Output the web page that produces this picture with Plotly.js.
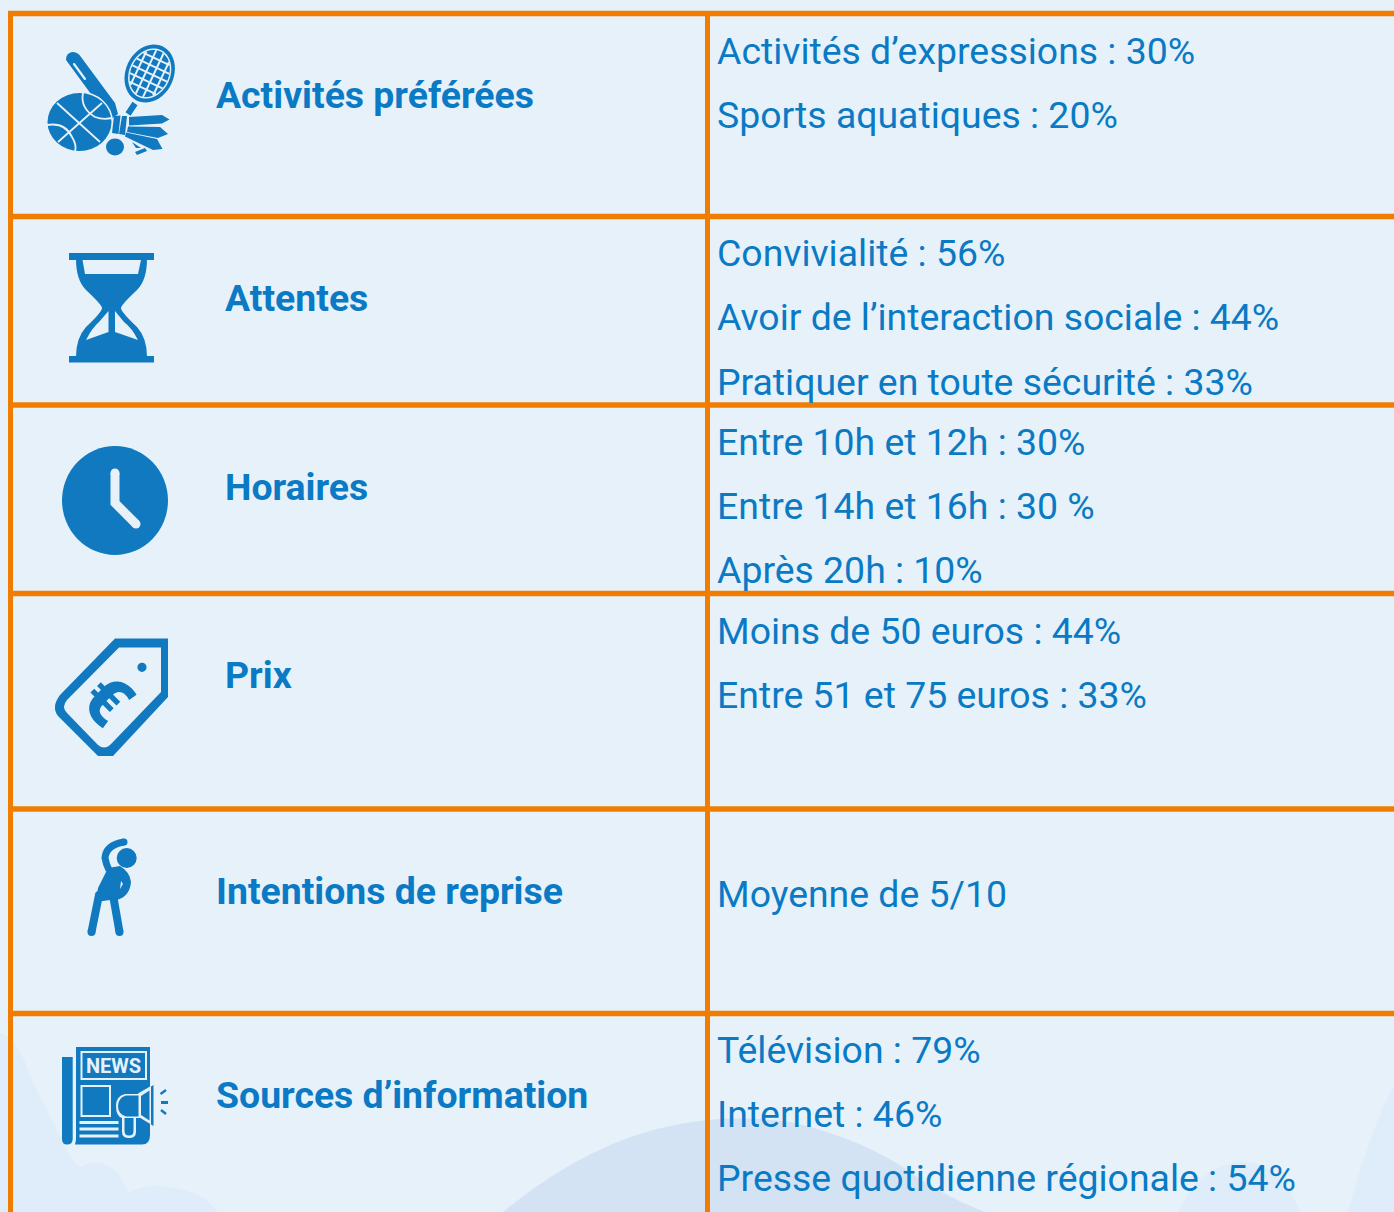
<!DOCTYPE html>
<html lang="fr"><head><meta charset="utf-8">
<script src="https://cdn.plot.ly/plotly-3.0.1.min.js"></script>
<style>html,body{margin:0;padding:0;background:#E6F1FA}#c{width:1394px;height:1212px}</style>
</head><body><div id="c"></div>
<script>
const rubriques = ['Activités préférées','Attentes','Horaires','Prix','Intentions de reprise','Sources d’information'];
const activites = ['Activités d’expressions : 30%','Sports aquatiques : 20%'];
const attentes  = ['Convivialité : 56%','Avoir de l’interaction sociale : 44%','Pratiquer en toute sécurité : 33%'];
const horaires  = ['Entre 10h et 12h : 30%','Entre 14h et 16h : 30 %','Après 20h : 10%'];
const prix      = ['Moins de 50 euros : 44%','Entre 51 et 75 euros : 33%'];
const reprise   = ['Moyenne de 5/10'];
const sources   = ['Télévision : 79%','Internet : 46%','Presse quotidienne régionale : 54%'];

const BG='#E6F1FA', OR='#F07D00', IC='#1079BF', TX='#0A7AC5';
const shapes=[], ann=[];
const P=(d,fill,line,w)=>shapes.push({type:'path',xref:'x',yref:'y',path:d,fillcolor:fill||'rgba(0,0,0,0)',line:{color:line||'rgba(0,0,0,0)',width:w||0}});
const E=(cx,cy,rx,ry,fill)=>shapes.push({type:'circle',xref:'x',yref:'y',x0:cx-rx,x1:cx+rx,y0:cy-ry,y1:cy+ry,fillcolor:fill,line:{width:0}});
const R=(x0,y0,x1,y1,fill)=>shapes.push({type:'rect',xref:'x',yref:'y',x0,y0,x1,y1,fillcolor:fill,line:{width:0}});
const CAP=(pts,w,c)=>{P('M'+pts.map(p=>p.join(',')).join(' L '),null,c,w);E(pts[0][0],pts[0][1],w/2,w/2,c);E(pts[pts.length-1][0],pts[pts.length-1][1],w/2,w/2,c);};
function rotE(cx,cy,a,b,t){const n=48;let s='';const c=Math.cos(t),d=Math.sin(t);for(let i=0;i<n;i++){const u=i/n*2*Math.PI,X=a*Math.cos(u),Y=b*Math.sin(u);s+=(i?'L ':'M ')+(cx+X*c-Y*d).toFixed(2)+','+(cy+X*d+Y*c).toFixed(2)+' ';}return s+'Z';}

// décor de fond
P('M0,1033 Q10,1036 17,1047 Q26,1062 33,1083 L67,1150 Q72,1162 80,1167 Q90,1162 100,1163 Q112,1166 117,1173 Q124,1182 128,1193 Q148,1183 167,1187 Q192,1190 207,1200 L217,1212 L0,1212 Z','#DEEDF9');
P('M1394,1085 Q1370,1130 1348,1212 L1394,1212 Z','#DEEDF9');
P('M1178,1212 Q1195,1175 1225,1165 Q1275,1150 1300,1212 Z','#DEEDF9');
P('M503,1212 Q590,1140 680,1124 Q730,1114 790,1122 Q850,1135 900,1165 Q940,1195 985,1212 Z','#D3E3F4');

// grille
[13.5,216.5,405,593.5,809,1013.5].forEach(y=>R(8,y-2.7,1394,y+2.7,OR));
R(8,11,13,1212,OR); R(705,11,710,1212,OR);

// icône sports
P('M66,60 Q66,53 72,52 Q78,52 81,57 L115,103 L118,114 L110,120 Z',IC);
CAP([[74,64],[85,79]],2.2,BG);
E(79.5,122,33.5,30.5,BG);
E(79.5,122,32,29,IC);
[[[57,103],[100,142]],[[102,103],[58,142]]].forEach(l=>P('M'+l[0]+' L'+l[1],null,BG,1.8));
P('M83,93 Q80,108 95,117 Q103,120 112,118',null,BG,1.8);
P('M47,125 Q65,122 72,137 Q77,145 75,152',null,BG,1.8);
const rc=[149.7,73.5],t=-1.13,ca=Math.cos(t),sa=Math.sin(t);
P(rotE(rc[0],rc[1],30,24,t),IC);P(rotE(rc[0],rc[1],26,20.5,t),BG);P(rotE(rc[0],rc[1],24.5,19,t),IC);
const rp=(X,Y)=>[(rc[0]+X*ca-Y*sa).toFixed(1),(rc[1]+X*sa+Y*ca).toFixed(1)].join(',');
[-16,-8,0,8,16].forEach(X=>{const h=19*Math.sqrt(1-X*X/(24.5*24.5));P('M'+rp(X,-h)+' L'+rp(X,h),null,BG,2);});
[-12.5,-4,4,12.5].forEach(Y=>{const h=24.5*Math.sqrt(1-Y*Y/(19*19));P('M'+rp(-h,Y)+' L'+rp(h,Y),null,BG,2);});
P('M135,103.5 L128,114',null,IC,6);
P('M114,116 L120.5,115.5 L118.5,134 L112,133 Z',IC);
P('M122,116 L127,116 L125,135 L119,134 Z',IC);
P('M129,117 L162,115 L169.5,119.5 L162,123.5 L129,125.5 Z',IC);
P('M128,126.5 L160,127 L168,134 L158,138 L127,132 Z',IC);
P('M126,132.5 L157,139 L162.5,149 L153,150 L125,136.5 Z',IC);
P('M132,142 L141,148 L136,148 Z',IC);
P('M135,152 L145,148 L147,151 L137,155 Z',IC);
E(115,147,9,8.5,IC);

// sablier
R(69,253,154,260,IC);R(69,356,154,362.5,IC);
P('M76,259 Q76,280 86,290 Q102,305 102,308 Q102,312 86,327 Q76,338 76,357 L147,357 Q147,338 137,327 Q121,312 121,308 Q121,305 137,290 Q147,280 147,259 Z '+
  'M82.5,260 L141,260 L138,274 L85,274 Z '+
  'M108.5,311 L108.5,332 L86,340 Q92,328 99,322 Z '+
  'M115,311 L115,332 L138,340 Q132,328 124,322 Z',IC);

// horloge
E(115,500.5,53,54.5,IC);
CAP([[115,473],[115,503],[136,524]],9,BG);

// étiquette
P('M115,638.5 L168,638.5 L168,697 L113,756 L98,756 L58,716 Q51,707 60,695 Z '+
  'M119,647.5 L161,647.5 L161,692 L112,743 Q105,751 98,745 L67,713 Q61,707 67,700 Z',IC);
E(142,667.3,4.6,4.6,IC);

// personnage
P('M124,842 Q106,845 105,858 Q106,864 109,870',null,IC,7);
E(124,842,3.5,3.5,IC);
E(126.7,858,11.5,11.5,BG);
E(126.7,858,10,10,IC);
P('M108,868 L98,888 L96,902 L110,900 L117,900 Q130,896 131,882 Q130,872 120,866 Z',IC);
CAP([[91.5,932],[99,895]],8,IC);CAP([[119.5,932],[113,895]],8,IC);
P('M121,881 L123,884 L120,889 Z',BG);

// journal
P('M62,1057 L72.7,1057 L72.7,1139 Q72.7,1144.5 67,1144.5 Q62,1144.5 62,1139 Z',IC);
P('M76,1047 L150,1047 L150,1135 Q150,1144.5 142,1144.5 L75,1144.5 Q76,1141 76,1139 Z',IC);
P('M81.5,1052 L146,1052 L146,1079 L81.5,1079 Z',null,BG,2);
P('M81.5,1086 L110,1086 L110,1116 L81.5,1116 Z',null,BG,2);
[1122.5,1129,1136].forEach(y=>R(79.5,y-1.5,118.5,y+1.5,BG));
P('M138,1093.5 L153.5,1084.5 L153.5,1126 L138,1116.5 Z',BG);
P('M125,1094 Q116,1096 116,1106 Q116,1116 122,1118 L122,1132 Q122,1138 129,1138 Q136,1138 136,1132 L136,1118 L140,1118 L140,1094 Z',BG);
P('M126,1095.5 L138.5,1095.5 L138.5,1116.5 L126,1116.5 Q118,1114 118,1106 Q118,1098 126,1095.5 Z',IC);
P('M124.5,1118 L133.5,1118 L133.5,1131 Q133.5,1135.5 129,1135.5 Q124.5,1135.5 124.5,1131 Z',IC);
P('M141,1096 L149.5,1090.5 L149.5,1120.5 L141,1115 Z',IC);
P('M151,1086.5 L153.5,1085 L153.5,1126 L151,1124.5 Z',IC);
P('M160.5,1094 L166,1090',null,IC,2.4);R(161,1101,168,1104,IC);P('M161,1110 L166,1114',null,IC,2.4);

// textes
const txt=(s,x,y,size,bold,color,angle)=>ann.push({text:s,xref:'x',yref:'y',x,y,xanchor:'left',yanchor:'middle',align:'left',showarrow:false,borderpad:0,borderwidth:0,textangle:angle||0,font:{family:'Roboto, sans-serif',size,weight:bold?700:400,color}});
const colG=[216,225,225,225,216,216], yG=[95,298,487,675,891,1095];
rubriques.forEach((s,i)=>txt(s,colG[i],yG[i],37.4,true,TX));
const rows=[[activites,[51,115]],[attentes,[253,317,382]],[horaires,[442,506,570]],[prix,[631,695]],[reprise,[894]],[sources,[1050,1114,1178]]];
rows.forEach(([arr,ys])=>arr.forEach((s,i)=>txt(s,717,ys[i],37.4,false,TX)));
ann.push({text:'€',xref:'x',yref:'y',x:106.5,y:700,xanchor:'center',yanchor:'middle',showarrow:false,textangle:45,borderpad:0,font:{family:'Roboto',size:68,weight:900,color:IC}});
ann.push({text:'NEWS',xref:'x',yref:'y',x:113.7,y:1065.5,xanchor:'center',yanchor:'middle',showarrow:false,borderpad:0,font:{family:'Roboto',size:20,weight:700,color:BG}});

Plotly.newPlot('c',[],{width:1394,height:1212,margin:{l:0,r:0,t:0,b:0},paper_bgcolor:BG,plot_bgcolor:BG,showlegend:false,
 xaxis:{range:[0,1394],visible:false,fixedrange:true},yaxis:{range:[1212,0],visible:false,fixedrange:true},shapes,annotations:ann},{staticPlot:true,displayModeBar:false});
</script></body></html>
